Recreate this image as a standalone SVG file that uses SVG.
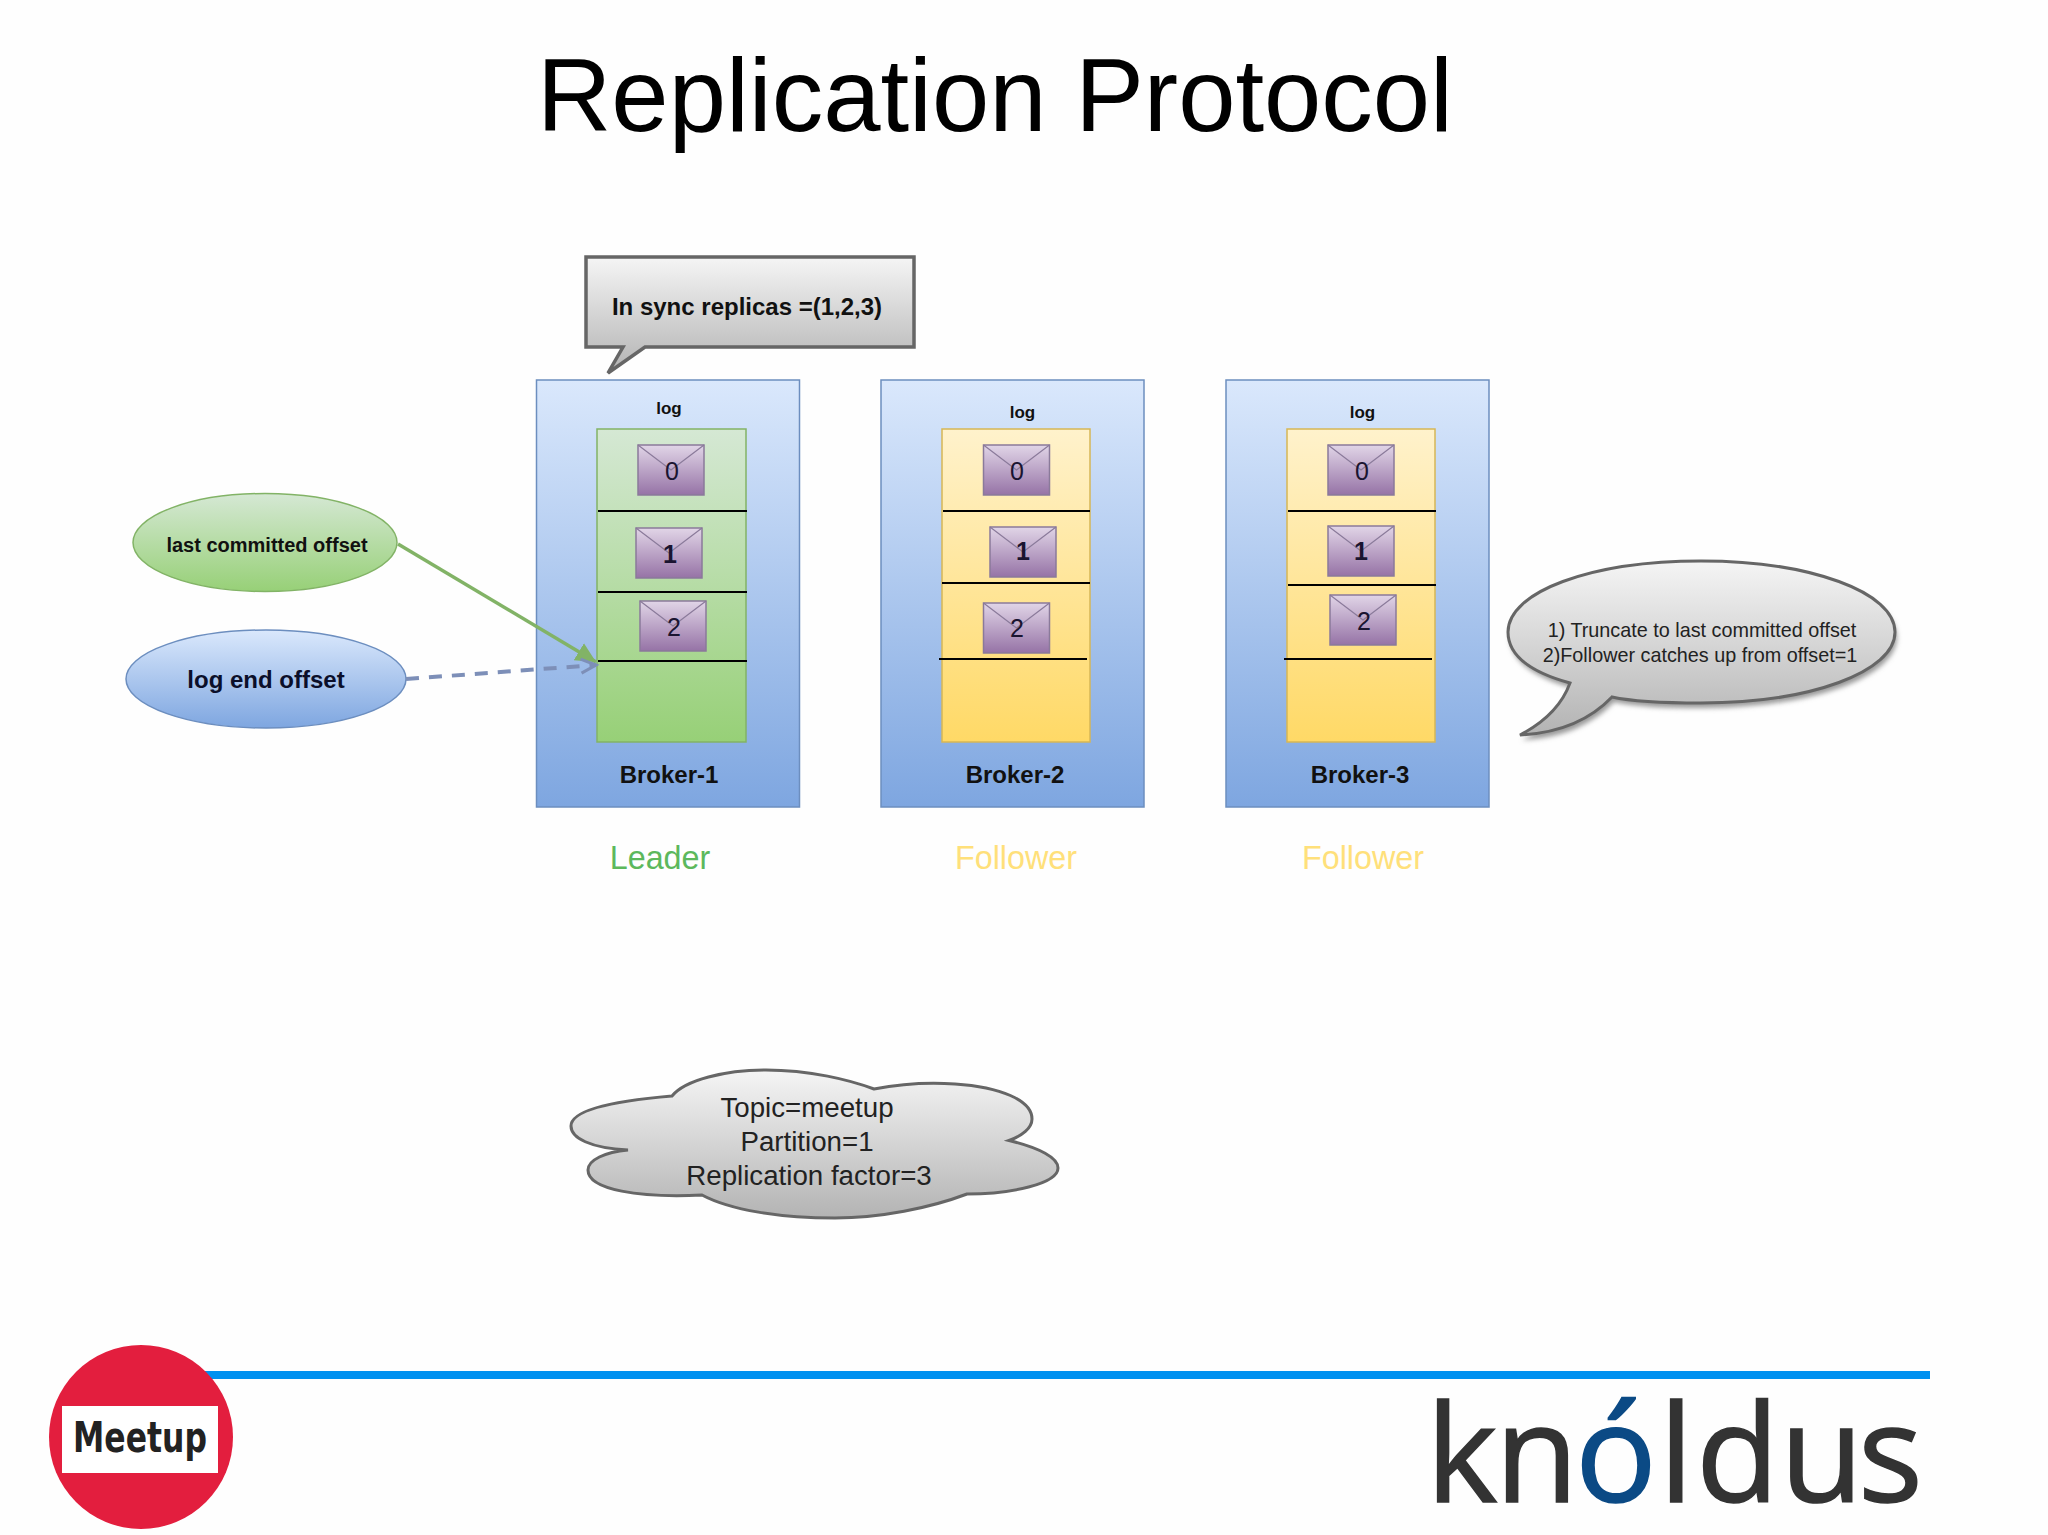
<svg xmlns="http://www.w3.org/2000/svg" width="2048" height="1535" viewBox="0 0 2048 1535">
<style>
text{font-family:"Liberation Sans",Arial,sans-serif;text-anchor:middle;fill:#111}
.b{font-weight:bold}
.broker{fill:url(#gBlue);stroke:#6c8ebf;stroke-width:1.5}
.lead{fill:url(#gGreen);stroke:#82b366;stroke-width:1.5}
.foll{fill:url(#gYellow);stroke:#d6b656;stroke-width:1.5}
.sep{stroke:#000;stroke-width:2}
.log{font-size:17px;font-weight:bold}
.bn{font-size:24px;font-weight:bold}
.n{font-size:25px;fill:#1a1430}
.role{font-size:32.3px}
.grayS{fill:url(#gGray);stroke:#666;stroke-width:3.5}
</style>
<defs>
<linearGradient id="gBlue" x1="0" y1="0" x2="0" y2="1"><stop offset="0" stop-color="#dae8fc"/><stop offset="1" stop-color="#7ea6e0"/></linearGradient>
<linearGradient id="gGreen" x1="0" y1="0" x2="0" y2="1"><stop offset="0" stop-color="#d5e8d4"/><stop offset="1" stop-color="#97d077"/></linearGradient>
<linearGradient id="gYellow" x1="0" y1="0" x2="0" y2="1"><stop offset="0" stop-color="#fff2cc"/><stop offset="1" stop-color="#ffd966"/></linearGradient>
<linearGradient id="gPurple" x1="0" y1="0" x2="0" y2="1"><stop offset="0" stop-color="#e1d5e7"/><stop offset="1" stop-color="#9673a6"/></linearGradient>
<linearGradient id="gGray" x1="0" y1="0" x2="0" y2="1"><stop offset="0" stop-color="#f5f5f5"/><stop offset="1" stop-color="#b3b3b3"/></linearGradient>
<filter id="blur" x="-10%" y="-10%" width="120%" height="120%"><feGaussianBlur stdDeviation="2.5"/></filter>
<g id="env"><rect width="66" height="50" fill="url(#gPurple)" stroke="#8a7a9a" stroke-width="1.5"/><path d="M0,0L33,25L66,0" fill="none" stroke="#8a7a9a" stroke-width="1.2"/></g>
<marker id="mGreen" markerUnits="userSpaceOnUse" markerWidth="24" markerHeight="24" refX="20" refY="10" orient="auto"><path d="M0,0L20,10L0,20Z" fill="#82b366"/></marker>
<marker id="mBlue" markerUnits="userSpaceOnUse" markerWidth="24" markerHeight="24" refX="19" refY="9" orient="auto"><path d="M4,2L19,9L4,16" fill="none" stroke="#7d8fb8" stroke-width="3"/></marker>
</defs>
<rect width="2048" height="1535" fill="#fefefe"/>
<text id="title" x="995" y="131" font-size="103" style="fill:#000">Replication Protocol</text>

<g id="broker1">
<rect class="broker" x="536.5" y="380" width="263" height="427"/>
<text class="log" x="669" y="414">log</text>
<rect class="lead" x="597" y="429" width="149" height="313"/>
<use href="#env" x="638" y="445"/><text class="n" x="672" y="480">0</text>
<line class="sep" x1="598" y1="511" x2="747" y2="511"/>
<use href="#env" x="636" y="528"/><text class="n b" x="670" y="563">1</text>
<line class="sep" x1="598" y1="592" x2="747" y2="592"/>
<use href="#env" x="640" y="601"/><text class="n" x="674" y="636">2</text>
<line class="sep" x1="598" y1="661" x2="747" y2="661"/>
<text class="bn" x="669" y="783">Broker-1</text>
</g>
<g id="broker2">
<rect class="broker" x="881" y="380" width="263" height="427"/>
<text class="log" x="1022.5" y="418">log</text>
<rect class="foll" x="942" y="429" width="148" height="313"/>
<use href="#env" x="983.5" y="445"/><text class="n" x="1017" y="480">0</text>
<line class="sep" x1="943" y1="511" x2="1090" y2="511"/>
<use href="#env" x="990" y="527"/><text class="n b" x="1023" y="560">1</text>
<line class="sep" x1="942" y1="583" x2="1090" y2="583"/>
<use href="#env" x="983.5" y="603"/><text class="n" x="1017" y="637">2</text>
<line class="sep" x1="939" y1="659" x2="1087" y2="659"/>
<text class="bn" x="1015" y="783">Broker-2</text>
</g>
<g id="broker3">
<rect class="broker" x="1226" y="380" width="263" height="427"/>
<text class="log" x="1362.5" y="418">log</text>
<rect class="foll" x="1287" y="429" width="148" height="313"/>
<use href="#env" x="1328" y="445"/><text class="n" x="1362" y="480">0</text>
<line class="sep" x1="1288" y1="511" x2="1436" y2="511"/>
<use href="#env" x="1328" y="526"/><text class="n b" x="1361" y="560">1</text>
<line class="sep" x1="1288" y1="585" x2="1436" y2="585"/>
<use href="#env" x="1330" y="595"/><text class="n" x="1364" y="630">2</text>
<line class="sep" x1="1284" y1="659" x2="1432" y2="659"/>
<text class="bn" x="1360" y="783">Broker-3</text>
</g>
<text id="role1" class="role" x="660" y="869" style="fill:#5cb85c">Leader</text>
<text id="role2" class="role" x="1016" y="869" style="fill:#ffe07a">Follower</text>
<text id="role3" class="role" x="1363" y="869" style="fill:#ffe07a">Follower</text>

<g id="callout">
<path class="grayS" d="M586,257H914V347H645L608,373L623,347H586Z"/>
<text class="b" x="747" y="315" font-size="24">In sync replicas =(1,2,3)</text>
</g>
<g id="committed">
<ellipse cx="265" cy="542.5" rx="132" ry="49" fill="url(#gGreen)" stroke="#82b366" stroke-width="1.5"/>
<text class="b" x="267" y="552" font-size="20">last committed offset</text>
</g>
<g id="logend">
<ellipse cx="266" cy="679" rx="140" ry="49" fill="url(#gBlue)" stroke="#6c8ebf" stroke-width="1.5"/>
<text class="b" x="266" y="688" font-size="24" style="fill:#0b0f2a">log end offset</text>
</g>
<g id="connectors">
<line x1="398" y1="544" x2="596" y2="662" stroke="#82b366" stroke-width="3.5" marker-end="url(#mGreen)"/>
<line x1="406" y1="679" x2="596" y2="665" stroke="#7d8fb8" stroke-width="4" stroke-dasharray="13 10" marker-end="url(#mBlue)"/>
</g>
<g id="bubble">
<path d="M1570,683C1530,672 1508,655 1508,632C1508,592 1590,561 1701,561C1810,561 1895,592 1895,632C1895,672 1810,703 1701,703C1665,703 1635,702 1612,697C1590,720 1560,733 1520,735C1545,722 1562,705 1570,683Z" transform="translate(2,5)" fill="#999" filter="url(#blur)"/>
<path class="grayS" style="stroke-width:3" d="M1570,683C1530,672 1508,655 1508,632C1508,592 1590,561 1701,561C1810,561 1895,592 1895,632C1895,672 1810,703 1701,703C1665,703 1635,702 1612,697C1590,720 1560,733 1520,735C1545,722 1562,705 1570,683Z"/>
<text x="1702" y="637" font-size="19.8" style="fill:#222">1) Truncate to last committed offset</text>
<text x="1700" y="662" font-size="19.8" style="fill:#222">2)Follower catches up from offset=1</text>
</g>
<g id="cloud">
<path class="grayS" style="stroke-width:3" d="M628,1150C590,1148 571,1138 571,1126C571,1108 625,1100 672,1096C685,1080 725,1070 766,1070C810,1070 850,1080 874,1089C900,1084 925,1082 955,1084C1000,1087 1032,1100 1032,1119C1032,1128 1022,1136 1009,1140.5C1040,1148 1058,1158 1058,1168C1058,1184 1010,1194 967,1194C930,1208 880,1218 835,1218C780,1218 730,1210 702,1195C640,1198 588,1190 588,1170C588,1160 605,1152 628,1150Z"/>
<text x="807" y="1117" font-size="27.7" style="fill:#222">Topic=meetup</text>
<text x="807" y="1151" font-size="27.7" style="fill:#222">Partition=1</text>
<text x="809" y="1185" font-size="27.7" style="fill:#222">Replication factor=3</text>
</g>
<rect id="rule" x="205" y="1371" width="1725" height="8" fill="#0091f0"/>
<g id="meetup">
<circle cx="141" cy="1437" r="92" fill="#e31e3e"/>
<rect x="62" y="1406" width="156" height="67" fill="#fff"/>
<text x="140" y="1452" font-size="42" font-weight="bold" textLength="134" lengthAdjust="spacingAndGlyphs" style="font-family:'DejaVu Sans',sans-serif;fill:#222">Meetup</text>
</g>
<text id="knoldus" y="1502" font-size="136" stroke="#333" stroke-width="1.5" style="font-family:'Open Sans',sans-serif;text-anchor:start;fill:#333"><tspan x="1426 1495">kn</tspan><tspan x="1575" style="fill:#0b4a85;stroke:#0b4a85">ó</tspan><tspan x="1659 1696 1780 1858">ldus</tspan></text>
</svg>
